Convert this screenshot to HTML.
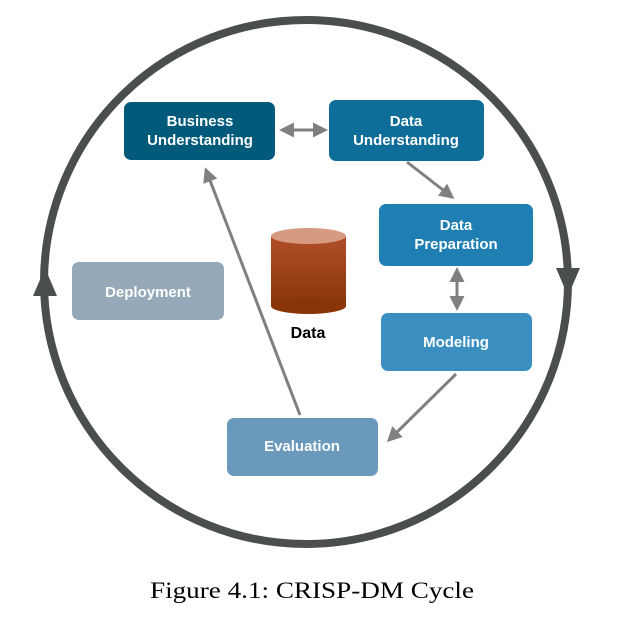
<!DOCTYPE html>
<html><head><style>
body{margin:0;background:#fff;width:631px;height:626px;overflow:hidden}
</style></head><body>
<svg width="631" height="626" viewBox="0 0 631 626" xmlns="http://www.w3.org/2000/svg">
<defs>
<linearGradient id="cyl" x1="0" y1="0" x2="0" y2="1">
<stop offset="0" stop-color="#b04f2a"/><stop offset="1" stop-color="#8a3508"/>
</linearGradient>
<marker id="ah" markerWidth="5" markerHeight="5" refX="4" refY="2.5" orient="auto-start-reverse" markerUnits="strokeWidth">
<path d="M0,0 L5,2.5 L0,5 z" fill="#808080"/></marker>
</defs>
<circle cx="306" cy="282" r="262" fill="none" stroke="#4a4f4c" stroke-width="8"/>
<polygon points="45,268 33,296 57,296" fill="#4a4f4c"/>
<polygon points="568,296 556,268 580,268" fill="#4a4f4c"/>
<g font-family="Liberation Sans, sans-serif" font-weight="bold" font-size="15" fill="#fff" text-anchor="middle">
<rect x="124" y="102" width="151" height="58" rx="7" fill="#025a7a"/>
<text x="200" y="126">Business</text><text x="200" y="145">Understanding</text>
<rect x="329" y="100" width="155" height="61" rx="7" fill="#0e6e99"/>
<text x="406" y="126">Data</text><text x="406" y="145">Understanding</text>
<rect x="379" y="204" width="154" height="62" rx="7" fill="#1f7fb2"/>
<text x="456" y="230">Data</text><text x="456" y="249">Preparation</text>
<rect x="381" y="313" width="151" height="58" rx="7" fill="#3b8fc0"/>
<text x="456" y="347">Modeling</text>
<rect x="72" y="262" width="152" height="58" rx="7" fill="#95a9b8"/>
<text x="148" y="297">Deployment</text>
<rect x="227" y="418" width="151" height="58" rx="7" fill="#6a99bb"/>
<text x="302" y="451">Evaluation</text>
</g>
<g stroke="#808080" stroke-width="3" fill="none">
<line x1="282" y1="130" x2="325" y2="130" marker-end="url(#ah)" marker-start="url(#ah)"/>
<line x1="407" y1="162" x2="452" y2="197" marker-end="url(#ah)"/>
<line x1="457" y1="270" x2="457" y2="308" marker-end="url(#ah)" marker-start="url(#ah)"/>
<line x1="456" y1="374" x2="389" y2="440" marker-end="url(#ah)"/>
<line x1="300" y1="415" x2="206" y2="170" marker-end="url(#ah)"/>
</g>
<rect x="271" y="236" width="75" height="70" fill="url(#cyl)"/>
<ellipse cx="308.5" cy="306" rx="37.5" ry="8" fill="#8a3508"/>
<ellipse cx="308.5" cy="236" rx="37.5" ry="8" fill="#d59a80"/>
<text x="308" y="338" font-family="Liberation Sans, sans-serif" font-weight="bold" font-size="16" text-anchor="middle" fill="#000">Data</text>
<text x="150" y="598" textLength="324" lengthAdjust="spacingAndGlyphs" font-family="Liberation Serif, serif" font-size="23" fill="#000">Figure 4.1: CRISP-DM Cycle</text>
</svg>
</body></html>
